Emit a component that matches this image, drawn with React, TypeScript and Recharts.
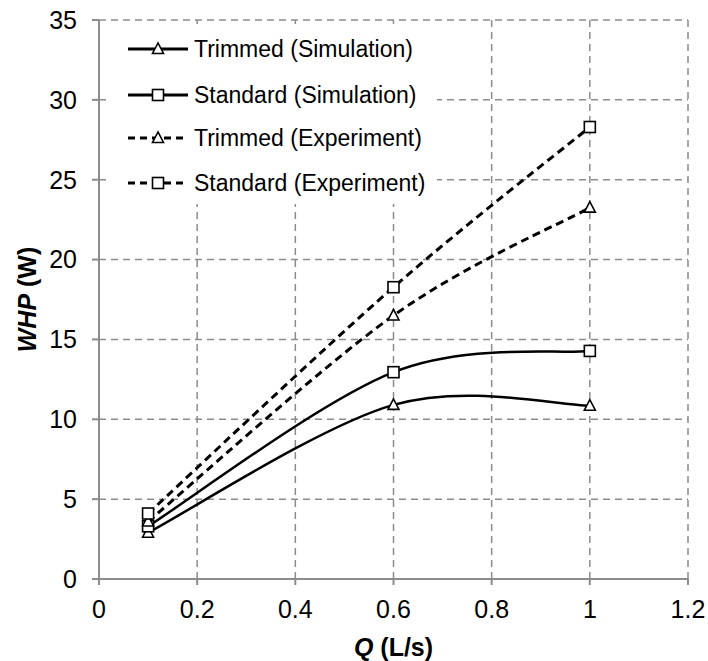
import React from 'react';
import { LineChart, Line, XAxis, YAxis, CartesianGrid, Legend, Label } from 'recharts';

const flowRates = [0.1, 0.6, 1.0];
const trimmedSimulation = [2.9, 10.9, 10.85];
const standardSimulation = [3.3, 12.95, 14.28];
const trimmedExperiment = [3.6, 16.5, 23.25];
const standardExperiment = [4.1, 18.27, 28.3];
const xTicks = [0, 0.2, 0.4, 0.6, 0.8, 1, 1.2];
const yTicks = [0, 5, 10, 15, 20, 25, 30, 35];

const seriesInfo = [
  { key: 'trimSim', name: 'Trimmed (Simulation)', shape: 'triangle', dashed: false },
  { key: 'stdSim', name: 'Standard (Simulation)', shape: 'square', dashed: false },
  { key: 'trimExp', name: 'Trimmed (Experiment)', shape: 'triangle', dashed: true },
  { key: 'stdExp', name: 'Standard (Experiment)', shape: 'square', dashed: true },
];

const data = flowRates.map((q, i) => ({
  q,
  trimSim: trimmedSimulation[i],
  stdSim: standardSimulation[i],
  trimExp: trimmedExperiment[i],
  stdExp: standardExperiment[i],
}));

const FONT = '"Liberation Sans", Arial, sans-serif';

// Excel-like smoothed line (Catmull-Rom style Bezier through the points)
function excelSmooth(context: any) {
  let pts: number[][] = [];
  return {
    areaStart() {},
    areaEnd() {},
    lineStart() {
      pts = [];
    },
    point(x: number, y: number) {
      pts.push([+x, +y]);
    },
    lineEnd() {
      if (!pts.length) return;
      context.moveTo(pts[0][0], pts[0][1]);
      for (let i = 0; i < pts.length - 1; i++) {
        const p0 = pts[i - 1] || pts[i];
        const p1 = pts[i];
        const p2 = pts[i + 1];
        const p3 = pts[i + 2] || pts[i + 1];
        context.bezierCurveTo(
          p1[0] + (p2[0] - p0[0]) / 6,
          p1[1] + (p2[1] - p0[1]) / 6,
          p2[0] - (p3[0] - p1[0]) / 6,
          p2[1] - (p3[1] - p1[1]) / 6,
          p2[0],
          p2[1]
        );
      }
    },
  };
}

function Marker({ cx, cy, shape }: { cx: number; cy: number; shape: string }) {
  if (cx == null || cy == null) return null;
  if (shape === 'square') {
    return <rect x={cx - 5.5} y={cy - 5.5} width={11} height={11} fill="#fff" stroke="#000" strokeWidth={1.6} />;
  }
  return (
    <polygon
      points={`${cx},${cy - 6} ${cx - 5.5},${cy + 4.5} ${cx + 5.5},${cy + 4.5}`}
      fill="#fff"
      stroke="#000"
      strokeWidth={1.6}
    />
  );
}

function LegendBox() {
  const rowY = [25, 71, 114, 159];
  return (
    <div style={{ background: '#fff', width: 331, height: 180 }}>
      <svg width={331} height={180} style={{ display: 'block' }}>
        {seriesInfo.map((s, i) => (
          <g key={s.key}>
            <line
              x1={22}
              x2={82}
              y1={rowY[i]}
              y2={rowY[i]}
              stroke="#000"
              strokeWidth={3}
              strokeDasharray={s.dashed ? '7 5' : undefined}
            />
            <Marker cx={52} cy={rowY[i]} shape={s.shape} />
            <text x={88} y={rowY[i] + 8} fontSize={23} fontFamily={FONT} fill="#000">
              {s.name}
            </text>
          </g>
        ))}
      </svg>
    </div>
  );
}

export default function App() {
  return (
    <div style={{ position: 'absolute', left: 0, top: 0, background: '#fff' }}>
      <LineChart width={708} height={661} data={data} margin={{ top: 20, right: 20, bottom: 0, left: 0 }}>
        <CartesianGrid stroke="#8c8c8c" strokeWidth={1.5} strokeDasharray="7 5" />
        <XAxis
          type="number"
          dataKey="q"
          domain={[0, 1.2]}
          ticks={xTicks}
          height={82}
          stroke="#8c8c8c"
          strokeWidth={2}
          tickSize={6}
          tickMargin={15}
          tick={{ fill: '#000', fontSize: 25, fontFamily: FONT }}
          interval={0}
        >
          <Label
            content={(props: any) => {
              const vb = props.viewBox || { x: 99, y: 579, width: 589, height: 82 };
              return (
                <text
                  x={vb.x + vb.width / 2}
                  y={vb.y + 77}
                  textAnchor="middle"
                  fontSize={25}
                  fontWeight="bold"
                  fontFamily={FONT}
                  fill="#000"
                >
                  <tspan fontStyle="italic">Q</tspan>
                  <tspan> (L/s)</tspan>
                </text>
              );
            }}
          />
        </XAxis>
        <YAxis
          type="number"
          domain={[0, 35]}
          ticks={yTicks}
          width={99}
          stroke="#8c8c8c"
          strokeWidth={2}
          tickSize={7}
          tickMargin={15}
          tick={{ fill: '#000', fontSize: 25, fontFamily: FONT }}
          interval={0}
        >
          <Label
            content={(props: any) => {
              const vb = props.viewBox || { x: 0, y: 20, width: 99, height: 559 };
              const cx = vb.x + 36;
              const cy = vb.y + vb.height / 2;
              return (
                <text
                  x={cx}
                  y={cy}
                  transform={`rotate(-90, ${cx}, ${cy})`}
                  textAnchor="middle"
                  fontSize={25}
                  fontWeight="bold"
                  fontFamily={FONT}
                  fill="#000"
                >
                  <tspan fontStyle="italic">WHP</tspan>
                  <tspan> (W)</tspan>
                </text>
              );
            }}
          />
        </YAxis>
        <Legend
          layout="vertical"
          align="center"
          verticalAlign="middle"
          wrapperStyle={{ position: 'absolute', left: 106, top: 24, width: 331, height: 180 }}
          content={() => <LegendBox />}
        />
        {seriesInfo.map((s) => (
          <Line
            key={s.key}
            dataKey={s.key}
            name={s.name}
            type={excelSmooth as any}
            stroke="#000"
            strokeWidth={s.dashed ? 3 : 2.5}
            strokeDasharray={s.dashed ? '8 5' : undefined}
            isAnimationActive={false}
            dot={(p: any) => <Marker key={`${s.key}-${p.index}`} cx={p.cx} cy={p.cy} shape={s.shape} />}
            activeDot={false}
          />
        ))}
      </LineChart>
    </div>
  );
}
